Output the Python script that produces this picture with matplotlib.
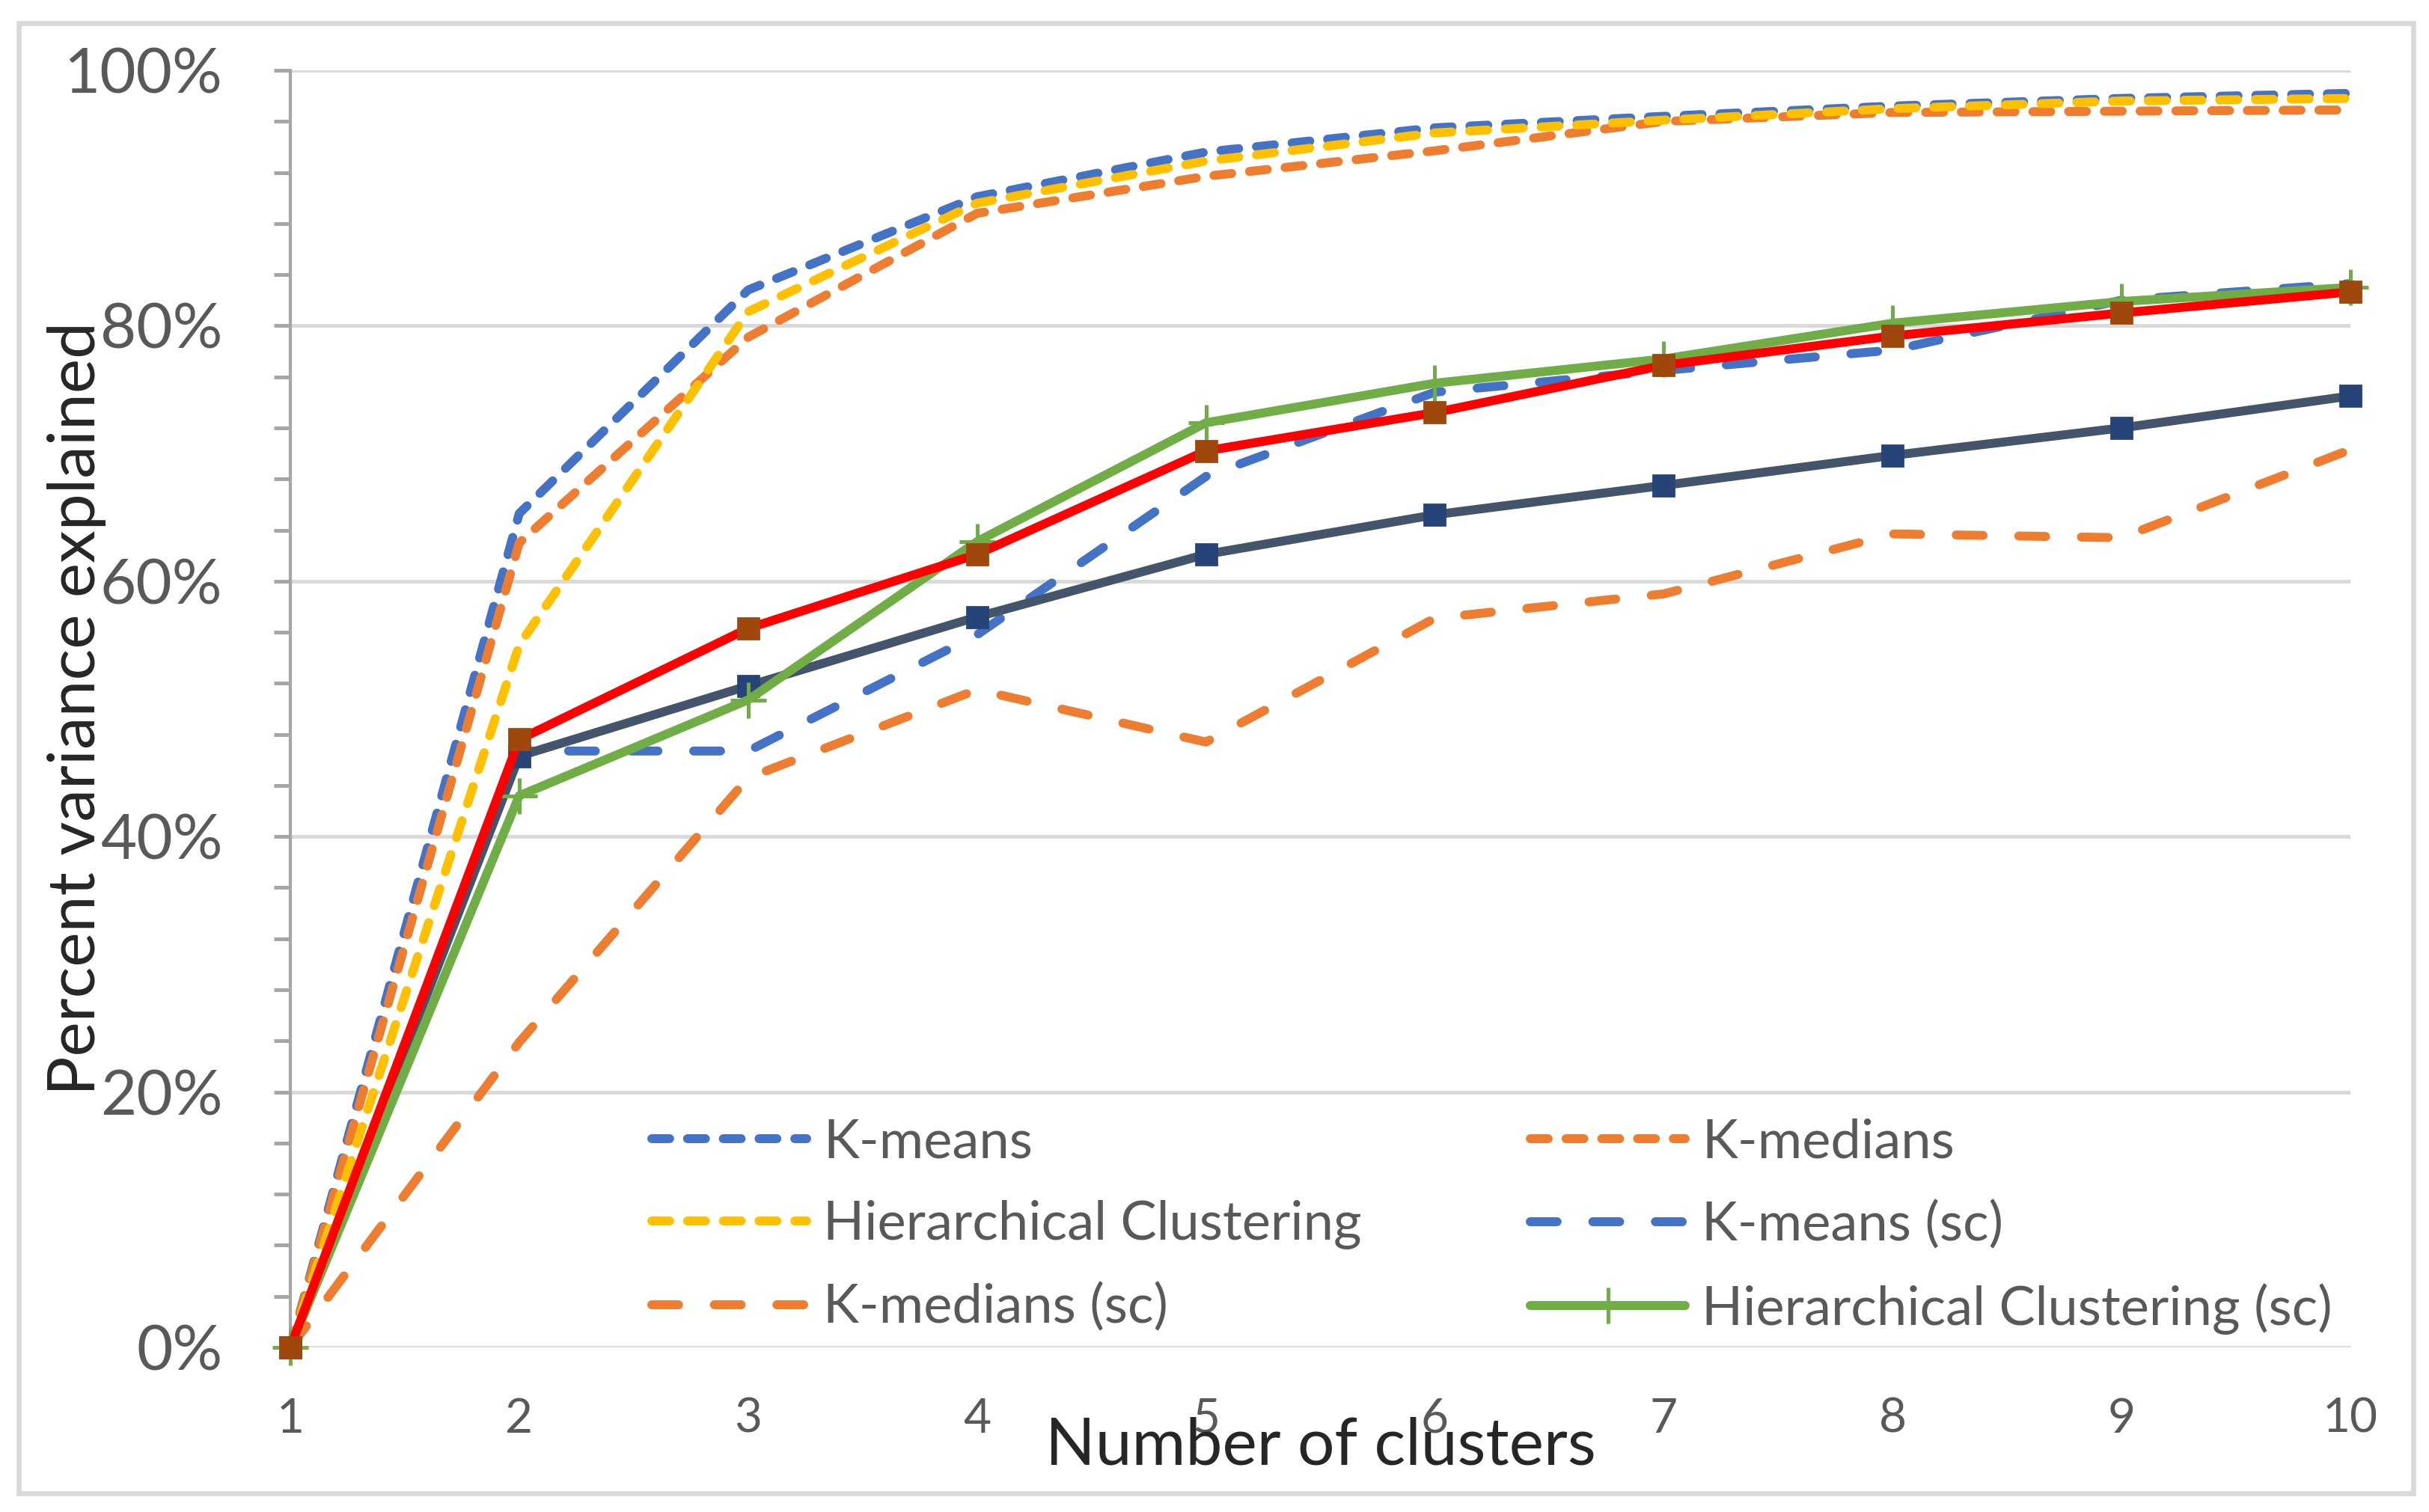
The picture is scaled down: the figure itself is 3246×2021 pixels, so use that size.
import matplotlib
matplotlib.use("Agg")
import matplotlib.pyplot as plt
from matplotlib.patches import Rectangle
from matplotlib.lines import Line2D
from matplotlib.ticker import PercentFormatter, MultipleLocator

plt.rcParams['font.family'] = ['Lato', 'DejaVu Sans']

# ---------------- data ----------------
clusters = [1, 2, 3, 4, 5, 6, 7, 8, 9, 10]
kmeans = [0, 65.3, 82.8, 90.1, 93.6, 95.5, 96.4, 97.2, 97.8, 98.2]
kmedians = [0, 63.0, 79.1, 88.8, 91.7, 93.7, 96.0, 96.7, 96.8, 96.9]
hierarchical = [0, 55.0, 81.1, 89.6, 92.9, 95.1, 96.1, 97.0, 97.6, 97.8]
kmeans_sc = [0, 46.7, 46.7, 55.8, 68.2, 74.8, 76.5, 78.1, 82.0, 83.3]
kmedians_sc = [0, 23.9, 44.6, 51.5, 47.4, 57.1, 59.0, 63.7, 63.4, 70.3]
hierarchical_sc = [0, 43.2, 50.7, 63.1, 72.4, 75.5, 77.4, 80.2, 81.9, 83.0]
series_7 = [0, 46.3, 51.8, 57.2, 62.1, 65.2, 67.5, 69.85, 72.0, 74.5]
series_8 = [0, 47.6, 56.3, 62.1, 70.2, 73.2, 76.9, 79.2, 81.0, 82.65]

labels = ["K-means", "K-medians", "Hierarchical Clustering",
          "K-means (sc)", "K-medians (sc)", "Hierarchical Clustering (sc)"]
yticks = [0, 20, 40, 60, 80, 100]

# ---------------- style ----------------
BLUE = "#4472C4"
ORANGE = "#ED7D31"
GOLD = "#FFC000"
GREEN = "#70AD47"
SLATE = "#44546A"
SLATE_M = "#264478"
RED = "#FF0000"
BROWN_M = "#9E480E"
GRID = "#D9D9D9"
AXIS = "#A6A6A6"
TXT = "#595959"
TITLE = "#262626"

LW = 4.3
DOT = (0, (2, 2))
DASH = (0, (3, 4))

W, H, DPI = 3246, 2021, 200
fig = plt.figure(figsize=(W / DPI, H / DPI), dpi=DPI)
fig.patch.set_facecolor("white")
L, R, T, B = 388 / W, 3141 / W, 1 - 94 / H, 1 - 1801 / H
ax = fig.add_axes([L, B, R - L, T - B])

# outer chart border
fig.patches.append(Rectangle((25 / W, 1 - 1996 / H), 3200 / W, 1965 / H,
                             transform=fig.transFigure, fill=False,
                             ec=GRID, lw=2.4, zorder=0))

common = dict(lw=LW, dash_capstyle="round", solid_capstyle="round",
              solid_joinstyle="round", dash_joinstyle="round", clip_on=False)

ax.plot(clusters, kmeans, color=BLUE, linestyle=DOT, zorder=3.0,
        label=labels[0], **common)
ax.plot(clusters, kmedians, color=ORANGE, linestyle=DOT, zorder=3.1,
        label=labels[1], **common)
ax.plot(clusters, hierarchical, color=GOLD, linestyle=DOT, zorder=3.2,
        label=labels[2], **common)
ax.plot(clusters, kmeans_sc, color=BLUE, linestyle=DASH, zorder=3.3,
        label=labels[3], **common)
ax.plot(clusters, kmedians_sc, color=ORANGE, linestyle=DASH, zorder=3.4,
        label=labels[4], **common)
ax.plot(clusters, series_7, color=SLATE, marker="s", ms=10, mfc=SLATE_M,
        mec=SLATE_M, mew=1, zorder=3.5, label="_nolegend_", **common)
ax.plot(clusters, hierarchical_sc, color=GREEN, marker="+", ms=17, mew=1.8,
        zorder=3.6, label=labels[5], **common)
ax.plot(clusters, series_8, color=RED, marker="s", ms=10, mfc=BROWN_M,
        mec=BROWN_M, mew=1, zorder=3.7, label="_nolegend_", **common)

# axes formatting
ax.set_xlim(1, 10)
ax.set_ylim(0, 100)
ax.set_xticks(clusters)
ax.set_xticklabels([str(c) for c in clusters])
ax.set_yticks(yticks)
ax.yaxis.set_major_formatter(PercentFormatter(100, decimals=0))
ax.yaxis.set_minor_locator(MultipleLocator(4))
for s in ["top", "right", "bottom"]:
    ax.spines[s].set_visible(False)
ax.spines["left"].set_color(AXIS)
ax.spines["left"].set_linewidth(1.5)
ax.yaxis.grid(True, color=GRID, lw=1.8)
ax.set_axisbelow(True)
ax.tick_params(axis="y", which="both", length=7.9, width=1.8, color=AXIS,
               direction="out")
ax.tick_params(axis="y", which="major", labelsize=30, labelcolor=TXT, pad=24.8)
ax.tick_params(axis="x", length=0, labelsize=23, labelcolor=TXT, pad=24)

ax.set_xlabel("Number of clusters", fontsize=31.5, color=TITLE, va="baseline")
ax.xaxis.set_label_coords(0.5, (1801 - 1958) / 1707)
ax.set_ylabel("Percent variance explained", fontsize=31.5, color=TITLE,
              va="baseline")
ax.yaxis.set_label_coords((127 - 388) / 2753, 0.5)

# legend (two columns placed separately)
def h_line(color, ls, marker=None):
    return Line2D([], [], color=color, lw=LW, linestyle=ls,
                  dash_capstyle="round", solid_capstyle="round",
                  marker=marker, ms=17, mew=1.8)

col1 = [(h_line(BLUE, DOT), labels[0]), (h_line(GOLD, DOT), labels[2]),
        (h_line(ORANGE, DASH), labels[4])]
col2 = [(h_line(ORANGE, DOT), labels[1]), (h_line(BLUE, DASH), labels[3]),
        (h_line(GREEN, "-", "+"), labels[5])]

leg_kw = dict(loc="upper left", frameon=False, borderpad=0, borderaxespad=0,
              handlelength=2.87, handletextpad=0.3, labelspacing=0.62,
              fontsize=26, labelcolor=TXT, numpoints=1,
              bbox_transform=ax.transAxes)
leg_top = (1801 - 1494) / 1707
leg1 = ax.legend([h for h, _ in col1], [l for _, l in col1],
                 bbox_to_anchor=((871 - 388) / 2753, leg_top), **leg_kw)
ax.add_artist(leg1)
leg2 = ax.legend([h for h, _ in col2], [l for _, l in col2],
                 bbox_to_anchor=((2045 - 388) / 2753, leg_top), **leg_kw)

fig.savefig("out.png", dpi=DPI, facecolor="white")
